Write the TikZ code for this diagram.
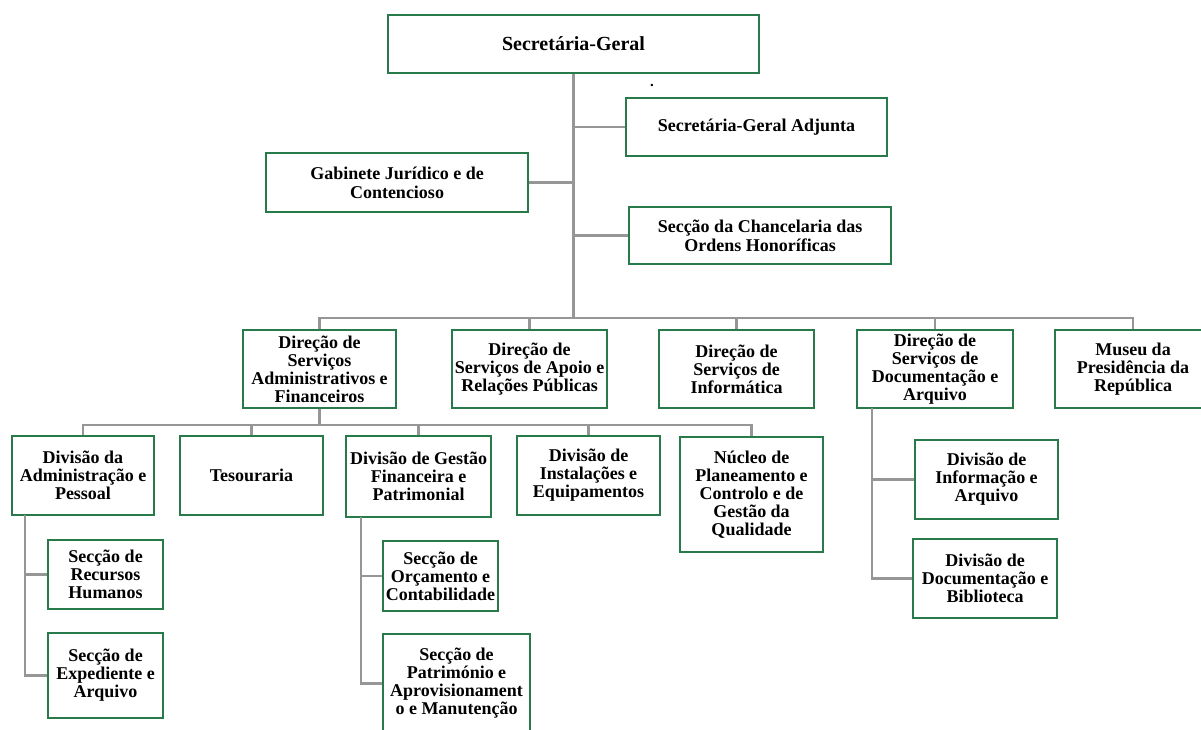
\documentclass[tikz,border=0pt]{standalone}
\usepackage{fontspec}
\setmainfont{Liberation Serif}
\usepackage{tikz}
\definecolor{boxgreen}{RGB}{40,122,74}
\definecolor{linegray}{RGB}{150,150,150}

\begin{document}
\begin{tikzpicture}[x=1pt,y=-1pt]
      \tikzstyle{unit}=[rectangle,draw=boxgreen,line width=2pt,fill=white,align=center,inner sep=1pt,
        font=\bfseries\fontsize{18}{18}\selectfont]
      \tikzstyle{headunit}=[unit,font=\bfseries\fontsize{18}{19}\selectfont]
      \tikzstyle{link}=[draw=linegray,line width=2.5pt]
      \useasboundingbox (0,0) rectangle (1201,729);
      \node[headunit,minimum width=371,minimum height=58,font=\bfseries\fontsize{20}{20}\selectfont] (sg) at (573.5,44) {Secretária-Geral};
      \node[headunit,minimum width=261,minimum height=58] (sga) at (756.5,127) {Secretária-Geral Adjunta};
      \node[headunit,minimum width=262,minimum height=59] (gab) at (397,182.5) {Gabinete Jurídico e de\\Contencioso};
      \node[headunit,minimum width=262,minimum height=57] (chan) at (760,235.5) {Secção da Chancelaria das\\Ordens Honoríficas};
      \node[inner sep=0pt,font=\bfseries\fontsize{15}{15}\selectfont] (dot) at (652,85) {.};
      % direcoes de servicos
      \node[unit,minimum width=153,minimum height=78] (dsaf) at (319.5,369) {Direção de\\Serviços\\Administrativos e\\Financeiros};
      \node[unit,minimum width=155,minimum height=78] (dsarp) at (529.5,369) {Direção de\\Serviços de Apoio e\\Relações Públicas};
      \node[unit,minimum width=155,minimum height=78] (dsi) at (736.5,369) {Direção de\\Serviços de\\Informática};
      \node[unit,minimum width=156,minimum height=78] (dsda) at (935,369) {Direção de\\Serviços de\\Documentação e\\Arquivo};
      \node[unit,minimum width=156,minimum height=78] (museu) at (1133,369) {Museu da\\Presidência da\\República};
      % divisoes
      \node[unit,minimum width=142,minimum height=79] (dap) at (83,475.5) {Divisão da\\Administração e\\Pessoal};
      \node[unit,minimum width=143,minimum height=79] (tes) at (251.5,475.5) {Tesouraria};
      \node[unit,minimum width=145,minimum height=81] (dgfp) at (418.5,476.5) {Divisão de Gestão\\Financeira e\\Patrimonial};
      \node[unit,minimum width=143,minimum height=79] (die) at (588.5,475.5) {Divisão de\\Instalações e\\Equipamentos};
      \node[unit,minimum width=143,minimum height=115] (nuc) at (751.5,494.5) {Núcleo de\\Planeamento e\\Controlo e de\\Gestão da\\Qualidade};
      \node[unit,minimum width=143,minimum height=79] (dia) at (986.5,479.5) {Divisão de\\Informação e\\Arquivo};
      \node[unit,minimum width=144,minimum height=79] (ddb) at (985,578.5) {Divisão de\\Documentação e\\Biblioteca};
      % seccoes
      \node[unit,minimum width=115,minimum height=69] (srh) at (105.5,574.5) {Secção de\\Recursos\\Humanos};
      \node[unit,minimum width=115,minimum height=85] (sea) at (105.5,675.5) {Secção de\\Expediente e\\Arquivo};
      \node[unit,minimum width=115,minimum height=70] (soc) at (440.5,576) {Secção de\\Orçamento e\\Contabilidade};
      \node[unit,minimum width=147,minimum height=99] (spa) at (456.5,683.5) {Secção de\\Património e\\Aprovisionament\\o e Manutenção};
      \coordinate (b1) at (573.5,318);
      \coordinate (b2) at (319.5,425);
      \coordinate (v1) at (25,515);
      \coordinate (v2) at (361,517);
      \coordinate (v3) at (872,408);
      \draw[link] (sg.south) -- (b1);
      \draw[link] (gab.east) -- (gab.east -| sg.south);
      \draw[link] (sga.west) -- (sga.west -| sg.south);
      \draw[link] (chan.west) -- (chan.west -| sg.south);
      \draw[link] (dsaf.north) |- (b1) -| (museu.north);
      \foreach \n in {dsarp,dsi,dsda}
        \draw[link] (\n.north) -- (\n.north |- b1);
      \draw[link] (dsaf.south) -- (b2);
      \draw[link] (dap.north) |- (b2) -| (nuc.north);
      \foreach \n in {tes,dgfp,die}
        \draw[link] (\n.north) -- (\n.north |- b2);
      \draw[link] (v1) |- (sea.west);
      \draw[link] (srh.west) -- (srh.west -| v1);
      \draw[link] (v2) |- (spa.west);
      \draw[link] (soc.west) -- (soc.west -| v2);
      \draw[link] (v3) |- (ddb.west);
      \draw[link] (dia.west) -- (dia.west -| v3);
    \end{tikzpicture}
\end{document}
